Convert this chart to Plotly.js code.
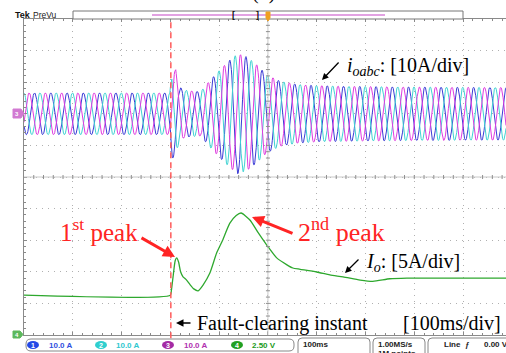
<!DOCTYPE html>
<html><head><meta charset="utf-8">
<script src="https://cdn.plot.ly/plotly-3.0.1.min.js"></script>
<style>html,body{margin:0;padding:0;background:#fff;overflow:hidden}#chart{width:506px;height:353px}</style>
</head><body><div id="chart"></div>
<script>
// ---------------- data ----------------
// time axis in ms (100 ms/div), left graticule edge = 0 ms
const FREQ_HZ = 30;                 // apparent (on-screen) frequency of the output currents
const FAULT_MS = 301;               // fault-clearing instant
const TRIGGER_MS = 500;             // trigger / centre of record
// envelope (peak amplitude, A) of the three output currents i_oabc
const envT = [0, 299, 303, 311, 318, 330, 346, 362, 381, 402, 422, 438, 457, 477, 498, 525, 560, 600, 660, 770, 988];
const envA = [6.6, 6.6, 14, 14, 8.5, 7.5, 7.2, 7.0, 10.5, 14.0, 17.0, 19.0, 18.0, 15.5, 12.3, 10.3, 9.3, 8.9, 8.7, 8.5, 8.3];
const phaseNames = ['ch1', 'ch2', 'ch3'];
const phaseDeg = [216, 96, 336];
// DC output current I_o (A)
const ioT = [0, 300, 302, 306, 310, 313, 317, 321, 326, 332, 340, 348, 357, 367, 381, 395, 406, 422, 435, 445, 463, 480, 498, 518, 539, 551, 566, 600, 627, 654, 689, 715, 750, 785, 988];
const ioA = [6.3, 6.3, 7.0, 9.5, 11.8, 12.2, 11.5, 10.0, 9.2, 8.8, 8.0, 7.3, 7.0, 7.9, 9.8, 13.0, 14.8, 17.7, 18.9, 19.3, 18.2, 16.2, 14.2, 12.2, 11.1, 10.6, 10.4, 9.97, 9.5, 9.2, 8.7, 8.5, 8.9, 9.0, 9.0];
// status bar labels
const chLabels = ['10.0 A', '10.0 A', '10.0 A', '2.50 V'];
const timebase = '100ms';
const sampleRate = '1.00MS/s';
const recLen = '1M points';

// ---------------- build ----------------
const L = 24, R = 506, T = 19, B = 335;
const px = x => (x - L) / (R - L);
const py = y => (B - y) / (B - T);
const interp = (xs, ys, x) => {
  for (let i = 1; i < xs.length; i++) if (x <= xs[i]) {
    const f = (x - xs[i-1]) / (xs[i] - xs[i-1]); return ys[i-1] + f * (ys[i] - ys[i-1]);
  }
  return ys[ys.length - 1];
};
const tt = [];
for (let t = 0; t <= 988; t += 1) tt.push(t);
const phaseColors = ['#3b3bd6', '#3fd3d3', '#e03ce0'];
const traces = [];
phaseNames.forEach((n, k) => {
  traces.push({
    x: tt, y: tt.map(t => interp(envT, envA, t) * Math.sin(2 * Math.PI * FREQ_HZ * t / 1000 + phaseDeg[k] * Math.PI / 180)),
    type: 'scatter', mode: 'lines', name: n, line: {color: phaseColors[k], width: 1}, hoverinfo: 'skip'
  });
});
traces.push({x: ioT, y: ioA, yaxis: 'y2', type: 'scatter', mode: 'lines', name: 'Io',
  line: {color: '#2ea82e', width: 1.3, shape: 'spline', smoothing: 0.6}, hoverinfo: 'skip'});

const shapes = [];
// centre cross of graticule
shapes.push({type: 'line', xref: 'x', yref: 'paper', x0: 0, x1: 988, y0: 0.5, y1: 0.5, line: {color: '#c8c8c8', width: 1}});
shapes.push({type: 'line', xref: 'x', yref: 'paper', x0: TRIGGER_MS, x1: TRIGGER_MS, y0: 0, y1: 1, line: {color: '#c8c8c8', width: 1}});
for (let t = 20; t < 988; t += 20)
  shapes.push({type: 'line', xref: 'x', yref: 'paper', ysizemode: 'pixel', yanchor: 0.5, x0: t, x1: t, y0: -2, y1: 2, line: {color: '#909090', width: 1}});
for (let v = -68; v < 30; v += 2)
  shapes.push({type: 'line', xref: 'x', yref: 'y', xsizemode: 'pixel', xanchor: TRIGGER_MS, x0: -2, x1: 2, y0: v, y1: v, line: {color: '#909090', width: 1}});
// fault-clearing line
shapes.push({type: 'line', xref: 'x', yref: 'paper', x0: FAULT_MS, x1: FAULT_MS, y0: -0.01, y1: 1, line: {color: '#ff5b5b', width: 1.5, dash: '6px,4px'}});
// record (PreVu) bar
shapes.push({type: 'rect', xref: 'paper', yref: 'paper', x0: px(73), x1: px(463), y0: py(19), y1: py(11), line: {color: '#777', width: 1}, fillcolor: '#fff'});
shapes.push({type: 'line', xref: 'paper', yref: 'paper', x0: px(152), x1: px(385), y0: py(15), y1: py(15), line: {color: '#e2a2e2', width: 2}});
shapes.push({type: 'path', xref: 'paper', yref: 'paper',
  path: `M${px(266)},${py(12)} L${px(270)},${py(12)} L${px(270)},${py(18)} L${px(268)},${py(21)} L${px(266)},${py(18)} Z`,
  fillcolor: '#f0a020', line: {color: '#f0a020', width: 1}});
// channel markers on the left
shapes.push({type: 'path', xref: 'paper', yref: 'paper',
  path: `M${px(13)},${py(109)} L${px(21)},${py(109)} L${px(24)},${py(113.5)} L${px(21)},${py(118)} L${px(13)},${py(118)} Z`,
  fillcolor: '#d27ad2', line: {color: '#d27ad2', width: 1}});
shapes.push({type: 'path', xref: 'paper', yref: 'paper',
  path: `M${px(13)},${py(331)} L${px(20)},${py(331)} L${px(23)},${py(334.5)} L${px(20)},${py(338)} L${px(13)},${py(338)} Z`,
  fillcolor: '#5cb85c', line: {color: '#5cb85c', width: 1}});
// status bar boxes
const pill = (x0, x1, y0, y1, r) => `M${px(x0+r)},${py(y0)} L${px(x1-r)},${py(y0)} Q${px(x1)},${py(y0)} ${px(x1)},${py(y0+r)} L${px(x1)},${py(y1-r)} Q${px(x1)},${py(y1)} ${px(x1-r)},${py(y1)} L${px(x0+r)},${py(y1)} Q${px(x0)},${py(y1)} ${px(x0)},${py(y1-r)} L${px(x0)},${py(y0+r)} Q${px(x0)},${py(y0)} ${px(x0+r)},${py(y0)} Z`;
shapes.push({type: 'path', xref: 'paper', yref: 'paper', path: pill(26, 294, 339, 351, 5), line: {color: '#888', width: 1}, fillcolor: '#fff'});
shapes.push({type: 'path', xref: 'paper', yref: 'paper', path: pill(298, 370, 338, 362, 4), line: {color: '#888', width: 1}, fillcolor: '#fff'});
shapes.push({type: 'path', xref: 'paper', yref: 'paper', path: pill(373, 425, 338, 362, 4), line: {color: '#888', width: 1}, fillcolor: '#fff'});
shapes.push({type: 'path', xref: 'paper', yref: 'paper', path: pill(428, 520, 338, 362, 4), line: {color: '#888', width: 1}, fillcolor: '#fff'});
const chCol = ['#2448e6', '#2fcfcf', '#a42aa4', '#22a022'];
const chTxt = ['#3050e0', '#30c8d0', '#b030b0', '#209a20'];
const circX = [33, 101, 168, 237];
const labX = [48, 115, 183, 251];
circX.forEach((cx, i) => shapes.push({type: 'circle', xref: 'paper', yref: 'paper', x0: px(cx-6), x1: px(cx+6), y0: py(341), y1: py(349), fillcolor: chCol[i], line: {color: chCol[i], width: 0}}));

const serif = 'Liberation Serif, Times New Roman, serif';
const sans = 'Liberation Sans, Arial, sans-serif';
const ann = [];
const txt = (text, x, y, o) => ann.push(Object.assign({text, xref: 'paper', yref: 'paper', x: px(x), y: py(y), xanchor: 'left', yanchor: 'middle', showarrow: false, borderpad: 0}, o));
const arr = (hx, hy, tx, ty, color, w, size) => ann.push({text: '', xref: 'paper', yref: 'paper', x: px(hx), y: py(hy), ax: tx - hx, ay: ty - hy, showarrow: true, arrowhead: 2, arrowsize: size, arrowwidth: w, arrowcolor: color, standoff: 0});

txt('<b>Tek</b>', 14, 15, {font: {family: sans, size: 9, color: '#111'}});
txt('PreVu', 32, 15, {font: {family: sans, size: 8.5, color: '#222'}});
txt('<b>[</b>', 231, 15, {font: {family: sans, size: 9, color: '#111'}});
txt('<b>]</b>', 255, 15, {font: {family: sans, size: 9, color: '#111'}});
txt('(b)', 263, 5, {xanchor: 'center', yanchor: 'bottom', font: {family: serif, size: 20, color: '#000'}});
txt('<i>i</i><sub><i>oabc</i></sub>: [10A/div]', 346, 66, {font: {family: serif, size: 20, color: '#000'}});
txt('1<sup>st</sup> peak', 59, 230, {font: {family: serif, size: 25, color: '#ff2424'}});
txt('2<sup>nd</sup> peak', 297, 230, {font: {family: serif, size: 26, color: '#ff2424'}});
txt('<i>I</i><sub><i>o</i></sub>: [5A/div]', 365, 262, {font: {family: serif, size: 20, color: '#000'}});
txt('Fault-clearing instant', 196, 323, {font: {family: serif, size: 20, color: '#000'}});
txt('[100ms/div]', 402, 323, {font: {family: serif, size: 20, color: '#000'}});
arr(322, 80, 340, 61, '#000', 1.3, 1);
arr(175, 257, 140, 237, '#ff2424', 3, 0.8);
arr(252, 217, 294, 234, '#ff2424', 3, 0.8);
arr(345, 273, 360, 258, '#000', 1.3, 1);
arr(176, 323, 192, 323, '#000', 1.5, 1);
// status bar text
circX.forEach((cx, i) => txt('<b>' + (i + 1) + '</b>', cx, 345, {xanchor: 'center', font: {family: sans, size: 7, color: '#fff'}}));
labX.forEach((lx, i) => txt('<b>' + chLabels[i] + '</b>', lx, 345, {font: {family: sans, size: 8, color: chTxt[i]}}));
txt('<b>' + timebase + '</b>', 302, 344, {font: {family: sans, size: 8, color: '#222'}});
txt('<b>' + sampleRate + '</b>', 377, 344, {font: {family: sans, size: 8, color: '#222'}});
txt('<b>' + recLen + '</b>', 377, 353, {font: {family: sans, size: 8, color: '#222'}});
txt('<b>Line  ƒ</b>', 443, 344, {font: {family: sans, size: 8, color: '#222'}});
txt('<b>0.00 V</b>', 483, 344, {font: {family: sans, size: 8, color: '#222'}});
txt('<b>3</b>', 17, 113.5, {xanchor: 'center', font: {family: sans, size: 6, color: '#fff'}});
txt('<b>4</b>', 17, 334.5, {xanchor: 'center', font: {family: sans, size: 6, color: '#fff'}});

const gridStyle = {showgrid: true, gridcolor: '#b0b0b0', gridwidth: 1, griddash: '1px,5px', zeroline: false, showticklabels: false,
  showline: true, linecolor: '#8a8a8a', linewidth: 1, ticks: 'inside', ticklen: 3, tickcolor: '#8a8a8a'};
const layout = {
  width: 506, height: 353, margin: {l: L, r: 0, t: T, b: 353 - B, pad: 0},
  paper_bgcolor: '#fff', plot_bgcolor: '#fff', showlegend: false,
  xaxis: Object.assign({}, gridStyle, {range: [0, 988], tick0: 0, dtick: 100, mirror: 'ticks',
    minor: {dtick: 20, ticks: 'inside', ticklen: 2, tickcolor: '#8a8a8a', showgrid: false}}),
  yaxis: Object.assign({}, gridStyle, {range: [-70, 30], tick0: -70, dtick: 10,
    minor: {dtick: 2, ticks: 'inside', ticklen: 2, tickcolor: '#8a8a8a', showgrid: false}}),
  yaxis2: {overlaying: 'y', range: [0, 50], visible: false},
  shapes, annotations: ann
};
Plotly.newPlot('chart', traces, layout, {staticPlot: true, displayModeBar: false});
</script></body></html>
